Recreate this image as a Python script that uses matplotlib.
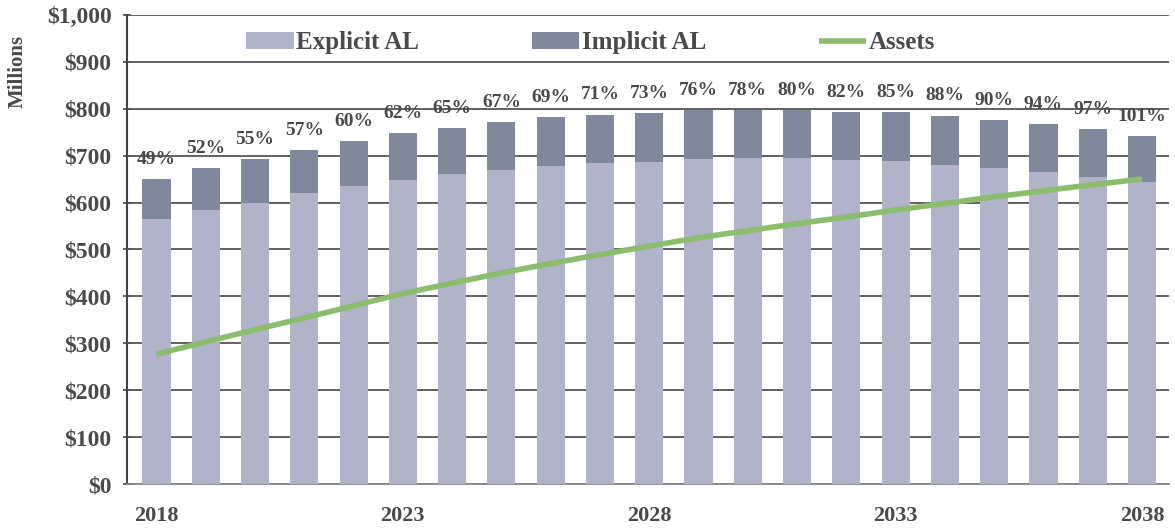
import numpy as np
import matplotlib.pyplot as plt

years = list(range(2018, 2039))
explicit_al = [565, 583, 600, 620, 635, 648, 661, 670, 678, 684, 687,
               693, 694, 695, 691, 689, 680, 673, 664, 655, 644]
total_al = [650, 674, 693, 712, 731, 748, 759, 772, 782, 787, 791,
            797, 797, 797, 793, 792, 785, 776, 767, 757, 742]
implicit_al = [t - e for t, e in zip(total_al, explicit_al)]
assets = [277, 303, 329, 354, 380, 406, 428, 450, 470, 489, 507,
          525, 540, 555, 569, 584, 598, 612, 625, 638, 650]
funded_pct = [49, 52, 55, 57, 60, 62, 65, 67, 69, 71, 73,
              76, 78, 80, 82, 85, 88, 90, 94, 97, 101]
year_labels = ['2018', '2023', '2028', '2033', '2038']

plt.rcParams['font.family'] = ['Liberation Serif', 'DejaVu Serif']
text_col = '#4a4a4a'

fig = plt.figure(figsize=(11.75, 5.29), dpi=100)
ax = fig.add_axes([0.108, 0.085, 0.887, 0.887])

x = np.arange(len(years))
b1 = ax.bar(x, explicit_al, width=0.57, color='#b0b3c9', label='Explicit AL', zorder=3)
b2 = ax.bar(x, implicit_al, width=0.57, bottom=explicit_al, color='#80889b',
            label='Implicit AL', zorder=3)
ln, = ax.plot(x, assets, color='#8cbd6c', linewidth=4, label='Assets', zorder=4,
              solid_capstyle='butt')

for i, p in enumerate(funded_pct):
    ax.text(x[i], total_al[i] + 24, f'{p}%', ha='center', va='bottom',
            fontsize=14, fontweight='bold', color=text_col, zorder=5)

ax.set_xlim(-0.6, 20.55)
ax.set_ylim(0, 1000)
ax.set_yticks(range(0, 1001, 100))
ax.set_yticklabels([f'${v:,}' for v in range(0, 1001, 100)],
                   fontsize=17, fontweight='bold', color=text_col)
ax.yaxis.grid(True, color='#555555', linewidth=1.3, zorder=0)
ax.tick_params(axis='y', length=6, width=1.3, color='#555555', direction='inout', pad=8)
ax.set_xticks([years.index(int(y)) for y in year_labels])
ax.set_xticklabels(year_labels, fontsize=16, fontweight='bold', color=text_col)
ax.tick_params(axis='x', length=0, pad=16)
ax.set_ylabel('Millions', fontsize=15, fontweight='bold', color=text_col)
ax.yaxis.set_label_coords(-0.095, 0.88)

for s in ['top', 'right']:
    ax.spines[s].set_visible(False)
ax.spines['left'].set_color('#444444')
ax.spines['left'].set_linewidth(1.5)
ax.spines['bottom'].set_color('#888888')
ax.spines['bottom'].set_linewidth(1.3)

leg = ax.legend([b1, b2, ln], ['Explicit AL', 'Implicit AL', 'Assets'],
                loc='center', bbox_to_anchor=(0.445, 0.94), ncol=3,
                frameon=True, facecolor='white', edgecolor='none',
                prop={'size': 18, 'weight': 'bold'}, handlelength=1.9,
                handleheight=0.7, columnspacing=4.5, handletextpad=0.1,
                borderpad=0.1)
for t in leg.get_texts():
    t.set_color(text_col)
leg.set_zorder(6)

fig.savefig('out.png', dpi=100)
